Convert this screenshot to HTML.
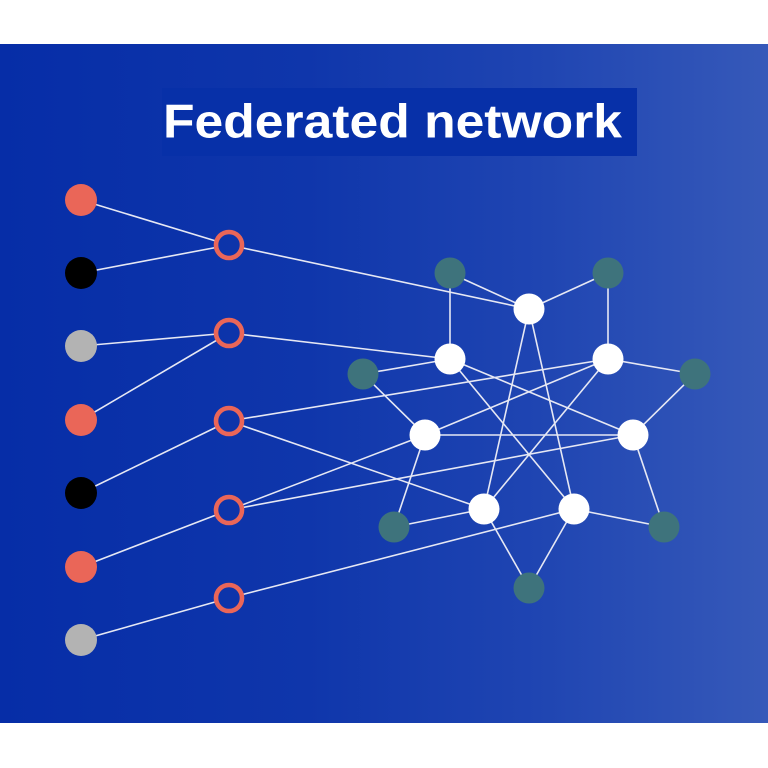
<!DOCTYPE html>
<html><head><meta charset="utf-8"><style>html,body{margin:0;padding:0;background:#fff;}svg{display:block;}</style></head>
<body>
<svg width="768" height="768" viewBox="0 0 768 768" xmlns="http://www.w3.org/2000/svg">
<defs>
<linearGradient id="bg" gradientUnits="userSpaceOnUse" x1="0" y1="0" x2="768" y2="0">
<stop offset="0" stop-color="#062da7"/>
<stop offset="0.4" stop-color="#0f36ab"/>
<stop offset="0.7" stop-color="#1f45b2"/>
<stop offset="1" stop-color="#3659b9"/>
</linearGradient>
</defs>
<rect x="0" y="0" width="768" height="768" fill="#fff"/>
<rect x="0" y="44" width="768" height="679" fill="url(#bg)"/>
<rect x="162" y="88" width="475" height="68" fill="#0730a8"/>
<text x="163" y="137.5" font-family="Liberation Sans, sans-serif" font-weight="bold" font-size="47" fill="#fff" textLength="459" lengthAdjust="spacingAndGlyphs">Federated network</text>

<g stroke="#e6e8f4" stroke-width="1.6" fill="none">
<line x1="81" y1="200" x2="229" y2="245"/>
<line x1="81" y1="273" x2="229" y2="245"/>
<line x1="81" y1="346" x2="229" y2="333"/>
<line x1="81" y1="420" x2="229" y2="333"/>
<line x1="81" y1="493" x2="229" y2="421"/>
<line x1="81" y1="567" x2="229" y2="510"/>
<line x1="81" y1="640" x2="229" y2="598"/>
<line x1="229" y1="245" x2="529" y2="309"/>
<line x1="229" y1="333" x2="450" y2="359"/>
<line x1="229" y1="421" x2="608" y2="359"/>
<line x1="229" y1="421" x2="484" y2="509"/>
<line x1="229" y1="510" x2="425" y2="435"/>
<line x1="229" y1="510" x2="633" y2="435"/>
<line x1="229" y1="598" x2="574" y2="509"/>
<line x1="450" y1="273" x2="529" y2="309"/>
<line x1="450" y1="273" x2="450" y2="359"/>
<line x1="608" y1="273" x2="529" y2="309"/>
<line x1="608" y1="273" x2="608" y2="359"/>
<line x1="529" y1="309" x2="484" y2="509"/>
<line x1="529" y1="309" x2="574" y2="509"/>
<line x1="450" y1="359" x2="363" y2="374"/>
<line x1="450" y1="359" x2="633" y2="435"/>
<line x1="450" y1="359" x2="574" y2="509"/>
<line x1="608" y1="359" x2="695" y2="374"/>
<line x1="608" y1="359" x2="425" y2="435"/>
<line x1="608" y1="359" x2="484" y2="509"/>
<line x1="363" y1="374" x2="425" y2="435"/>
<line x1="695" y1="374" x2="633" y2="435"/>
<line x1="425" y1="435" x2="633" y2="435"/>
<line x1="425" y1="435" x2="394" y2="527"/>
<line x1="633" y1="435" x2="664" y2="527"/>
<line x1="484" y1="509" x2="394" y2="527"/>
<line x1="484" y1="509" x2="529" y2="588"/>
<line x1="574" y1="509" x2="664" y2="527"/>
<line x1="574" y1="509" x2="529" y2="588"/>
</g>

<circle cx="81" cy="200" r="16" fill="#ea6658"/>
<circle cx="81" cy="273" r="16" fill="#000"/>
<circle cx="81" cy="346" r="16" fill="#b3b3b3"/>
<circle cx="81" cy="420" r="16" fill="#ea6658"/>
<circle cx="81" cy="493" r="16" fill="#000"/>
<circle cx="81" cy="567" r="16" fill="#ea6658"/>
<circle cx="81" cy="640" r="16" fill="#b3b3b3"/>

<g fill="url(#bg)" stroke="#ea6658" stroke-width="4.6">
<circle cx="229" cy="245" r="13"/>
<circle cx="229" cy="333" r="13"/>
<circle cx="229" cy="421" r="13"/>
<circle cx="229" cy="510" r="13"/>
<circle cx="229" cy="598" r="13"/>
</g>

<g fill="#3e737c">
<circle cx="450" cy="273" r="15.5"/>
<circle cx="608" cy="273" r="15.5"/>
<circle cx="363" cy="374" r="15.5"/>
<circle cx="695" cy="374" r="15.5"/>
<circle cx="394" cy="527" r="15.5"/>
<circle cx="664" cy="527" r="15.5"/>
<circle cx="529" cy="588" r="15.5"/>
</g>

<g fill="#fff">
<circle cx="529" cy="309" r="15.5"/>
<circle cx="450" cy="359" r="15.5"/>
<circle cx="608" cy="359" r="15.5"/>
<circle cx="425" cy="435" r="15.5"/>
<circle cx="633" cy="435" r="15.5"/>
<circle cx="484" cy="509" r="15.5"/>
<circle cx="574" cy="509" r="15.5"/>
</g>
</svg>
</body></html>
